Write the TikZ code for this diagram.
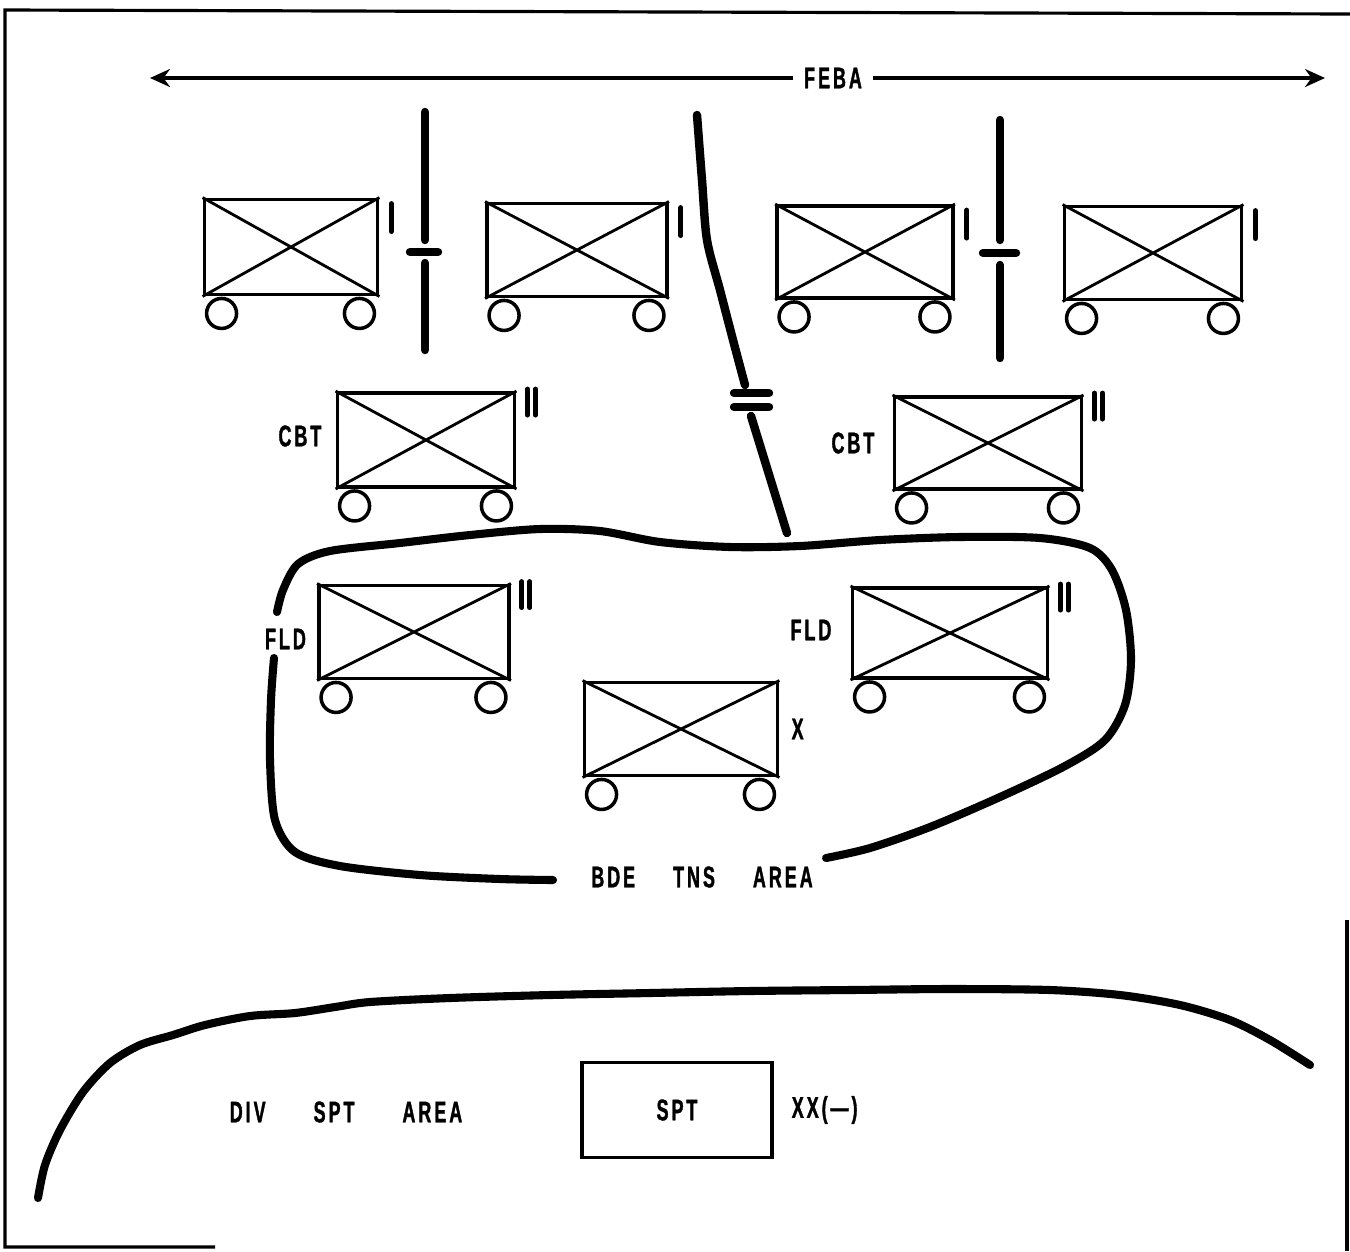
\documentclass[tikz,border=0pt]{standalone}
\usepackage{fontspec}
\newfontfamily\milfont[FakeStretch=0.6, LetterSpace=10,
  BoldFeatures={FakeBold=1.2}]{Liberation Sans}
\usetikzlibrary{arrows.meta,positioning}
\tikzset{
  unitbox/.style  ={rectangle, draw, line width=1.1pt, inner sep=0pt},
  unitcross/.style={line width=0.8pt},
  wheel/.style    ={line width=1pt},
  echelon/.style  ={line width=1.4pt, line cap=round},
  milbound/.style ={line width=2.4pt, line cap=round},
  arealine/.style ={line width=2.3pt, line cap=round, line join=round},
  miltext/.style  ={font=\milfont\bfseries\fontsize{8.5}{10}\selectfont, inner sep=1pt},
  febaarrow/.style={-{Stealth[length=2mm, width=1.8mm]}, line width=0.9pt},
  frameline/.style={line width=0.9pt},
}

\begin{document}
\begin{tikzpicture}[x=0.1mm, y=-0.1mm]
  \useasboundingbox (0,0) rectangle (1350,1251);
  % frame
  \draw[frameline] (1350,14) -- (5,10) -- (5,1247) -- (215,1247);
  \draw[frameline] (1347,920) -- (1347,1251);

  % FEBA
  \node[miltext, inner sep=3pt] (feba) at (833,78) {FEBA};
  \coordinate (febaW) at (150,78);
  \coordinate (febaE) at (1325,78);
  \draw[febaarrow] (feba) -- (febaW);
  \draw[febaarrow] (feba) -- (febaE);

  % units
  \foreach \nm/\cx/\cy/\w/\h in {bnA/291/247/173/95, bnB/577/250/180/93,
      bnC/865/252/176/92, bnD/1153/253/177/93, cbtW/426/440/177/94,
      cbtE/988/443/187/92, fldW/414/632/190/93, fldE/950/633/195/90,
      bde/681/729/193/93} {
    \node[unitbox, minimum width=\w*0.1mm, minimum height=\h*0.1mm] (\nm) at (\cx,\cy) {};
    \draw[unitcross] (\nm.north west) -- (\nm.south east)
                     (\nm.south west) -- (\nm.north east);
    \draw[wheel] ([shift={(19,17)}]\nm.south west) circle[radius=15]
                 ([shift={(-20,17)}]\nm.south east) circle[radius=15];
  }
  \foreach \nm in {bnA,bnB,bnC,bnD}
    \draw[echelon] ([shift={(12,6)}]\nm.north east) -- ++(0,28);
  \foreach \nm in {cbtW,cbtE,fldW,fldE}
    \draw[echelon] ([shift={(11,-2)}]\nm.north east) -- ++(0,26)
                   ([shift={(19,-2)}]\nm.north east) -- ++(0,26);

  \node[miltext, left=1mm of cbtW, yshift=0.4mm] (cbtWlbl) {CBT};
  \node[miltext, left=1.4mm of cbtE] (cbtElbl) {CBT};
  \node[miltext, left=0.7mm of fldW, yshift=-0.7mm] (fldWlbl) {FLD};
  \node[miltext, left=1.5mm of fldE, yshift=0.3mm] (fldElbl) {FLD};
  \node[miltext, right=0.8mm of bde] (bdelbl) {X};

  % boundaries
  \draw[milbound] (425,112) -- (425,240) (425,263) -- (425,350);
  \draw[milbound] (410,252) -- (438,252);
  \draw[milbound] (1000,120) -- (1000,240) (1000,265) -- (1000,358);
  \draw[milbound] (983,253) -- (1016,253);
  \draw[milbound] plot[smooth] coordinates {(697,115) (702,180) (707,240) (720,290) (733,340) (745,385)};
  \draw[milbound] (734,393) -- (769,393) (734,407) -- (769,407);
  \draw[milbound] (751,416) -- (787,533);

  % brigade trains area
  \draw[arealine] plot[smooth] coordinates {(553,880) (500,879) (420,875) (340,866)
    (295,852) (275,820) (270,760) (271,700) (274,658)};
  \draw[arealine] plot[smooth] coordinates {(277,612) (283,590) (298,564) (330,551)
    (400,543) (470,535) (540,529) (600,531) (660,542) (730,547) (800,546) (880,540)
    (960,537) (1040,538) (1090,548) (1112,570) (1126,610) (1131,660) (1125,705)
    (1105,740) (1065,766) (1000,797) (930,827) (870,848) (826,858)};
  \node[miltext] (bdearea) at (702,877) {BDE\hspace{3.8mm}TNS\hspace{3.8mm}AREA};

  % division support area
  \draw[arealine] plot[smooth] coordinates {(38,1198) (45,1165) (60,1130) (83,1092)
    (110,1063) (140,1045) (173,1035) (205,1025) (250,1016) (295,1013) (335,1007)
    (370,1002) (450,998) (550,995) (650,993) (750,991) (850,990) (950,989)
    (1050,990) (1120,995) (1180,1005) (1230,1020) (1270,1040) (1310,1065)};
  \node[miltext] (divarea) at (346,1112) {DIV\hspace{4.8mm}SPT\hspace{4.8mm}AREA};
  \node[draw, line width=0.9pt, minimum width=19mm, minimum height=9.5mm,
        miltext] (spt) at (677,1110) {SPT};
  \node[miltext, right=1.4mm of spt] (sptlbl) {XX(—)};
\end{tikzpicture}
\end{document}
